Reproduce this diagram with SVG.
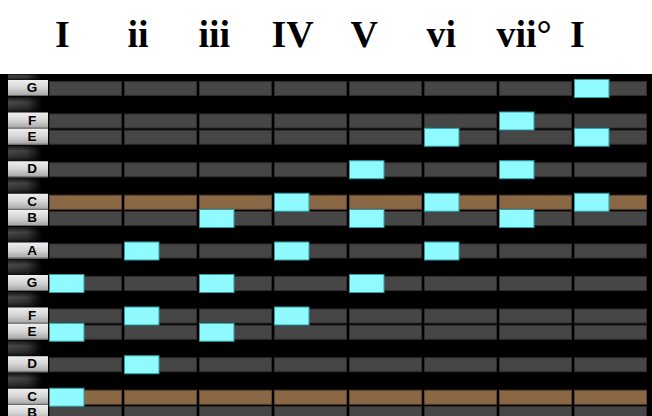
<svg xmlns="http://www.w3.org/2000/svg" xmlns:xlink="http://www.w3.org/1999/xlink" width="652" height="416" viewBox="0 0 652 416">
<style>
.bar{fill:#464646;stroke:#2c2c2c;stroke-width:1}
.barc{fill:#8a6846;stroke:#5e4630;stroke-width:1}
.note{fill:#8ffaff;stroke:#2e9ea3;stroke-width:1}
.wk{fill:url(#wkg)}
.wks{fill:#6a6a6a}
.bk{fill:url(#bkv)}
.bko{fill:url(#bkh)}
.kl{font-family:"Liberation Sans",Arial,sans-serif;font-weight:bold;font-size:13.5px;fill:#000;text-anchor:middle}
.rn{font-family:"Liberation Serif","Times New Roman",serif;font-weight:bold;font-size:38px;fill:#000}
</style>
<defs>
<linearGradient id="wkg" x1="0" y1="0" x2="0" y2="1">
<stop offset="0" stop-color="#efefef"/>
<stop offset="0.5" stop-color="#d4d4d4"/>
<stop offset="1" stop-color="#a2a2a2"/>
</linearGradient>
<linearGradient id="bkv" x1="0" y1="0" x2="0" y2="1">
<stop offset="0" stop-color="#151515"/>
<stop offset="0.35" stop-color="#4a4a4a"/>
<stop offset="0.75" stop-color="#2e2e2e"/>
<stop offset="1" stop-color="#0c0c0c"/>
</linearGradient>
<linearGradient id="bkh" x1="0" y1="0" x2="1" y2="0">
<stop offset="0" stop-color="#000" stop-opacity="0"/>
<stop offset="0.55" stop-color="#000" stop-opacity="0.15"/>
<stop offset="1" stop-color="#000" stop-opacity="1"/>
</linearGradient>
<g id="rowG">
<rect class="bar" x="49.5" y="0.5" width="72" height="14"/>
<rect class="bar" x="124.5" y="0.5" width="72" height="14"/>
<rect class="bar" x="199.5" y="0.5" width="72" height="14"/>
<rect class="bar" x="274.5" y="0.5" width="72" height="14"/>
<rect class="bar" x="349.5" y="0.5" width="72" height="14"/>
<rect class="bar" x="424.5" y="0.5" width="72" height="14"/>
<rect class="bar" x="499.5" y="0.5" width="72" height="14"/>
<rect class="bar" x="574.5" y="0.5" width="72" height="14"/>
</g>
<g id="rowC">
<rect class="barc" x="49.5" y="0.5" width="72" height="14"/>
<rect class="barc" x="124.5" y="0.5" width="72" height="14"/>
<rect class="barc" x="199.5" y="0.5" width="72" height="14"/>
<rect class="barc" x="274.5" y="0.5" width="72" height="14"/>
<rect class="barc" x="349.5" y="0.5" width="72" height="14"/>
<rect class="barc" x="424.5" y="0.5" width="72" height="14"/>
<rect class="barc" x="499.5" y="0.5" width="72" height="14"/>
<rect class="barc" x="574.5" y="0.5" width="72" height="14"/>
</g>
<g id="bkey">
<rect class="bk" x="8" y="0" width="34" height="16"/>
<rect class="bko" x="8" y="0" width="34" height="16"/>
</g>
</defs>
<rect x="0" y="0" width="652" height="416" fill="#ffffff"/>
<rect x="0" y="74" width="652" height="342" fill="#000000"/>

<g id="labels">
<text class="rn" x="55" y="47">I</text>
<text class="rn" x="127.5" y="47">ii</text>
<text class="rn" x="198.5" y="47">iii</text>
<text class="rn" x="271.5" y="47">IV</text>
<text class="rn" x="350.5" y="47">V</text>
<text class="rn" x="426.5" y="47">vi</text>
<text class="rn" x="496.5" y="47">vii°</text>
<text class="rn" x="570" y="47">I</text>
</g>

<g id="keyboard">
<rect class="bk" x="8" y="74" width="34" height="6"/>
<rect class="bko" x="8" y="74" width="34" height="6"/>
<use xlink:href="#bkey" href="#bkey" y="96.75"/>
<use xlink:href="#bkey" href="#bkey" y="145.5"/>
<use xlink:href="#bkey" href="#bkey" y="178"/>
<use xlink:href="#bkey" href="#bkey" y="226.75"/>
<use xlink:href="#bkey" href="#bkey" y="259.25"/>
<use xlink:href="#bkey" href="#bkey" y="291.75"/>
<use xlink:href="#bkey" href="#bkey" y="340.5"/>
<use xlink:href="#bkey" href="#bkey" y="373"/>
<g id="key-G5"><rect class="wk" x="8" y="80" width="40" height="16"/><rect class="wks" x="8" y="95" width="40" height="1"/><text class="kl" x="32" y="92">G</text></g>
<g id="key-F5"><rect class="wk" x="8" y="112.5" width="40" height="16"/><rect class="wks" x="8" y="127.5" width="40" height="1"/><text class="kl" x="32" y="124.5">F</text></g>
<g id="key-E5"><rect class="wk" x="8" y="128.75" width="40" height="16"/><rect class="wks" x="8" y="143.75" width="40" height="1"/><text class="kl" x="32" y="140.75">E</text></g>
<g id="key-D5"><rect class="wk" x="8" y="161.25" width="40" height="16"/><rect class="wks" x="8" y="176.25" width="40" height="1"/><text class="kl" x="32" y="173.25">D</text></g>
<g id="key-C5"><rect class="wk" x="8" y="193.75" width="40" height="16"/><rect class="wks" x="8" y="208.75" width="40" height="1"/><text class="kl" x="32" y="205.75">C</text></g>
<g id="key-B4"><rect class="wk" x="8" y="210" width="40" height="16"/><rect class="wks" x="8" y="225" width="40" height="1"/><text class="kl" x="32" y="222">B</text></g>
<g id="key-A4"><rect class="wk" x="8" y="242.5" width="40" height="16"/><rect class="wks" x="8" y="257.5" width="40" height="1"/><text class="kl" x="32" y="254.5">A</text></g>
<g id="key-G4"><rect class="wk" x="8" y="275" width="40" height="16"/><rect class="wks" x="8" y="290" width="40" height="1"/><text class="kl" x="32" y="287">G</text></g>
<g id="key-F4"><rect class="wk" x="8" y="307.5" width="40" height="16"/><rect class="wks" x="8" y="322.5" width="40" height="1"/><text class="kl" x="32" y="319.5">F</text></g>
<g id="key-E4"><rect class="wk" x="8" y="323.75" width="40" height="16"/><rect class="wks" x="8" y="338.75" width="40" height="1"/><text class="kl" x="32" y="335.75">E</text></g>
<g id="key-D4"><rect class="wk" x="8" y="356.25" width="40" height="16"/><rect class="wks" x="8" y="371.25" width="40" height="1"/><text class="kl" x="32" y="368.25">D</text></g>
<g id="key-C4"><rect class="wk" x="8" y="388.75" width="40" height="16"/><rect class="wks" x="8" y="403.75" width="40" height="1"/><text class="kl" x="32" y="400.75">C</text></g>
<g id="key-B3"><rect class="wk" x="8" y="405" width="40" height="16"/><text class="kl" x="32" y="417">B</text></g>
</g>

<g id="grid">
<use xlink:href="#rowG" href="#rowG" y="81"/>
<use xlink:href="#rowG" href="#rowG" y="113.5"/>
<use xlink:href="#rowG" href="#rowG" y="129.75"/>
<use xlink:href="#rowG" href="#rowG" y="162.25"/>
<use xlink:href="#rowC" href="#rowC" y="194.75"/>
<use xlink:href="#rowG" href="#rowG" y="211"/>
<use xlink:href="#rowG" href="#rowG" y="243.5"/>
<use xlink:href="#rowG" href="#rowG" y="276"/>
<use xlink:href="#rowG" href="#rowG" y="308.5"/>
<use xlink:href="#rowG" href="#rowG" y="324.75"/>
<use xlink:href="#rowG" href="#rowG" y="357.25"/>
<use xlink:href="#rowC" href="#rowC" y="389.75"/>
<use xlink:href="#rowG" href="#rowG" y="406"/>
</g>

<g id="notes">
<g id="chord-I"><rect class="note" x="49.5" y="274.5" width="34.5" height="18"/><rect class="note" x="49.5" y="323.25" width="34.5" height="18"/><rect class="note" x="49.5" y="388.25" width="34.5" height="18"/></g>
<g id="chord-ii"><rect class="note" x="124.5" y="242" width="34.5" height="18"/><rect class="note" x="124.5" y="307" width="34.5" height="18"/><rect class="note" x="124.5" y="355.75" width="34.5" height="18"/></g>
<g id="chord-iii"><rect class="note" x="199.5" y="209.5" width="34.5" height="18"/><rect class="note" x="199.5" y="274.5" width="34.5" height="18"/><rect class="note" x="199.5" y="323.25" width="34.5" height="18"/></g>
<g id="chord-IV"><rect class="note" x="274.5" y="193.25" width="34.5" height="18"/><rect class="note" x="274.5" y="242" width="34.5" height="18"/><rect class="note" x="274.5" y="307" width="34.5" height="18"/></g>
<g id="chord-V"><rect class="note" x="349.5" y="160.75" width="34.5" height="18"/><rect class="note" x="349.5" y="209.5" width="34.5" height="18"/><rect class="note" x="349.5" y="274.5" width="34.5" height="18"/></g>
<g id="chord-vi"><rect class="note" x="424.5" y="128.25" width="34.5" height="18"/><rect class="note" x="424.5" y="193.25" width="34.5" height="18"/><rect class="note" x="424.5" y="242" width="34.5" height="18"/></g>
<g id="chord-vii"><rect class="note" x="499.5" y="112" width="34.5" height="18"/><rect class="note" x="499.5" y="160.75" width="34.5" height="18"/><rect class="note" x="499.5" y="209.5" width="34.5" height="18"/></g>
<g id="chord-I-octave"><rect class="note" x="574.5" y="79.5" width="34.5" height="18"/><rect class="note" x="574.5" y="128.25" width="34.5" height="18"/><rect class="note" x="574.5" y="193.25" width="34.5" height="18"/></g>
</g>
</svg>
